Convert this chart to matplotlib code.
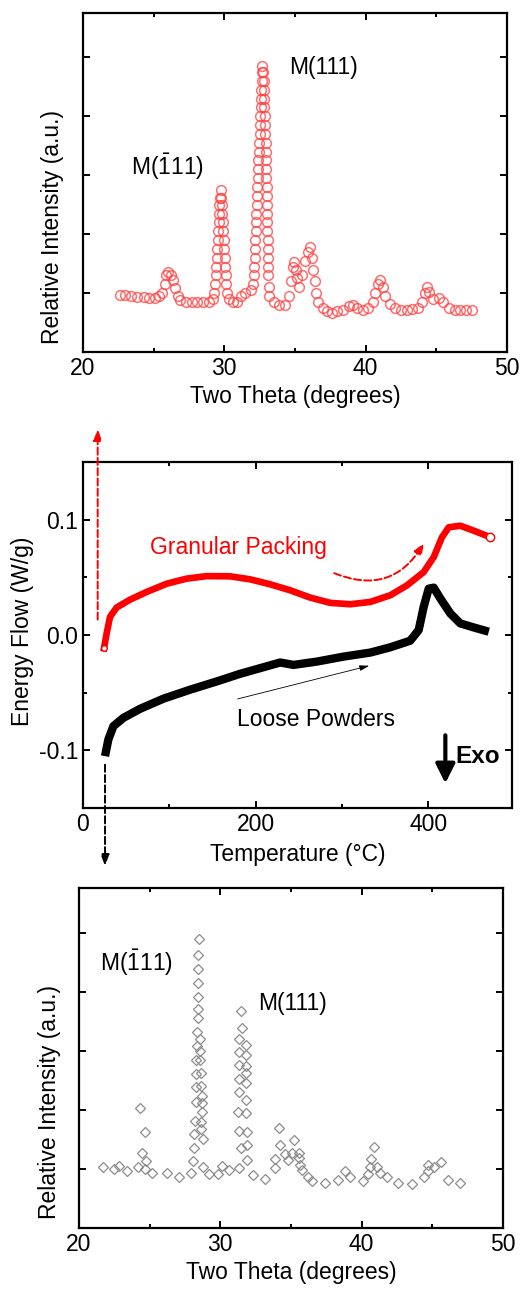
import matplotlib
matplotlib.use('Agg')
import matplotlib.pyplot as plt
import numpy as np

plt.rcParams['font.family'] = ['Liberation Sans', 'DejaVu Sans']
plt.rcParams['font.size'] = 16.5
plt.rcParams['mathtext.fontset'] = 'custom'
plt.rcParams['mathtext.rm'] = 'Liberation Sans'
plt.rcParams['mathtext.it'] = 'Liberation Sans:italic'
plt.rcParams['mathtext.bf'] = 'Liberation Sans:bold'

######  top XRD (granular packing)
tt_top = [22.6, 23.0, 23.4, 23.8, 24.3, 24.7, 25.1, 25.4, 25.6, 25.8, 25.9, 26.0, 26.2, 26.35,
          26.5, 26.7, 26.9, 27.3, 27.7, 28.1, 28.5, 28.9, 29.2,
          29.3, 29.35, 29.4, 29.43, 29.46, 29.5, 29.53, 29.56, 29.6, 29.63, 29.66, 29.7, 29.75,
          29.8, 29.83, 29.86, 29.9, 29.93, 29.96, 30.0, 30.03, 30.06, 30.1, 30.13, 30.2,
          30.3, 30.6, 30.9, 31.2, 31.5, 31.9,
          32.05, 32.1, 32.12, 32.15, 32.18, 32.2, 32.22, 32.25, 32.27, 32.3, 32.32, 32.35, 32.37,
          32.4, 32.42, 32.45, 32.47, 32.5, 32.52, 32.55, 32.57, 32.6, 32.62, 32.65, 32.68, 32.7,
          32.75, 32.78, 32.8, 32.82, 32.84, 32.86, 32.88, 32.9, 32.92, 32.94, 32.95, 32.97, 32.98,
          33.0, 33.0, 33.02, 33.03, 33.04, 33.05, 33.06, 33.07, 33.08, 33.1, 33.12, 33.15,
          33.2, 33.5, 33.9, 34.3, 34.6, 34.75, 34.85, 34.95, 35.05,
          35.15, 35.3, 35.5, 35.7, 35.9, 36.1, 36.2, 36.3, 36.4, 36.5, 36.6, 37.0, 37.3, 37.6, 38.0,
          38.4, 38.8, 39.1, 39.4, 39.8, 40.2, 40.5, 40.7, 40.9, 41.05, 41.2, 41.4, 41.7, 42.1, 42.5,
          42.9, 43.3, 43.7, 44.0, 44.2, 44.35, 44.5, 44.8, 45.2, 45.5, 45.9, 46.3, 46.7, 47.1, 47.5]
I_top = [0.97, 0.96, 0.95, 0.94, 0.93, 0.92, 0.92, 0.95, 1.0, 1.15, 1.3, 1.36, 1.3, 1.22,
         1.08, 0.95, 0.88, 0.85, 0.85, 0.85, 0.85, 0.85, 0.9,
         1.0, 1.15, 1.3, 1.45, 1.6, 1.75, 1.9, 2.05, 2.2, 2.35, 2.5, 2.62, 2.75,
         2.62, 2.5, 2.35, 2.2, 2.05, 1.9, 1.75, 1.6, 1.45, 1.3, 1.15, 1.0,
         0.9, 0.85, 0.85, 0.95, 1.0, 1.05,
         1.15, 1.3, 1.45, 1.6, 1.75, 1.9, 2.05, 2.2, 2.35, 2.5, 2.65, 2.8, 2.95,
         3.1, 3.25, 3.4, 3.55, 3.7, 3.85, 4.0, 4.15, 4.3, 4.45, 4.6, 4.75, 4.86,
         4.75, 4.6, 4.45, 4.3, 4.15, 4.0, 3.85, 3.7, 3.55, 3.4, 3.25, 3.1, 2.95,
         2.8, 2.65, 2.5, 2.35, 2.2, 2.05, 1.9, 1.75, 1.6, 1.45, 1.3, 1.1,
         0.95, 0.85, 0.8, 0.8, 0.95, 1.2, 1.45, 1.53, 1.4,
         1.25, 1.1, 1.3, 1.55, 1.7, 1.78, 1.6, 1.4, 1.2, 1.0, 0.85, 0.75, 0.7, 0.66, 0.7,
         0.72, 0.78, 0.8, 0.75, 0.72, 0.75, 0.85, 1.0, 1.15, 1.22, 1.1, 0.95, 0.82, 0.75, 0.72,
         0.72, 0.73, 0.75, 0.85, 1.0, 1.1, 1.02, 0.9, 0.92, 0.85, 0.75, 0.72, 0.71, 0.71, 0.71]

######  DSC curves
T_gran = [24.3, 27.4, 31.3, 39, 54.5, 73.8, 97, 120, 143.4, 170.4, 193.6, 216.8, 240, 263,
          286.4, 309.6, 332.8, 356, 375.3, 394.6, 406.2, 415.8, 423.6, 437, 452.5, 471.9]
E_gran = [-0.0115, 0.0014, 0.0158, 0.0239, 0.0307, 0.0374, 0.0445, 0.0489, 0.0511, 0.0509,
          0.0483, 0.044, 0.0388, 0.0325, 0.0279, 0.0267, 0.0287, 0.0345, 0.0431, 0.0546,
          0.0675, 0.0848, 0.0934, 0.0948, 0.0905, 0.0848]
T_loose = [25.5, 29.4, 35.2, 46.8, 66, 93.1, 124, 155, 182, 209, 228.4, 243.8, 271, 301.8,
           332.8, 356, 379, 388.8, 394.6, 400.4, 406.2, 414, 425.5, 437, 452.5, 470]
E_loose = [-0.105, -0.0905, -0.079, -0.0718, -0.064, -0.0552, -0.0474, -0.0402, -0.0336,
           -0.0279, -0.0238, -0.0259, -0.023, -0.0187, -0.0152, -0.0106, -0.0049, 0.0043,
           0.0244, 0.0402, 0.0411, 0.0316, 0.0187, 0.0101, 0.0066, 0.0029]

######  bottom XRD (loose powders)
tt_bot = [21.7, 22.5, 22.8, 23.4, 24.2, 24.3, 24.7, 24.45, 24.7, 24.75, 25.2, 26.2, 27.1,
          27.9, 28.1, 28.15, 28.15, 28.2, 28.25, 28.25, 28.3, 28.3, 28.35, 28.35, 28.4, 28.4,
          28.4, 28.4, 28.45, 28.45, 28.5, 28.55, 28.6, 28.6, 28.65, 28.65, 28.7, 28.7, 28.7,
          28.65, 28.65, 28.75, 28.8, 29.2, 29.85, 30.15, 30.6, 31.35, 31.45, 31.3, 31.25, 31.3,
          31.3, 31.3, 31.35, 31.3, 31.55, 31.5, 31.8, 31.8, 31.8, 31.85, 31.85, 31.85, 31.85,
          31.9, 31.9, 31.9, 32.35, 33.2, 33.9, 33.9, 34.15, 34.25, 34.55, 34.8, 35.1, 35.2,
          35.55, 35.6, 35.65, 35.75, 36.2, 36.5, 37.4, 38.3, 38.8, 39.2, 40.1, 40.45, 40.6,
          40.65, 40.85, 41.1, 41.3, 41.8, 42.6, 43.6, 44.4, 44.7, 44.7, 45.1, 45.6, 46.1, 47.0]
I_bot = [1.04, 1.0, 1.05, 0.97, 1.04, 2.04, 1.63, 1.27, 1.0, 1.13, 0.93, 0.93, 0.87,
         0.93, 1.13, 1.35, 1.59, 1.82, 2.14, 2.38, 2.61, 2.85, 3.09, 3.32, 3.55, 3.71,
         3.92, 4.15, 4.39, 4.62, 4.9, 3.2, 3.0, 2.84, 2.62, 2.4, 2.24, 2.11, 1.97,
         1.8, 1.67, 1.5, 1.04, 0.92, 0.92, 1.05, 0.99, 1.02, 1.35, 1.64, 1.97, 2.3,
         2.52, 2.76, 2.98, 3.2, 3.38, 3.68, 3.1, 2.93, 2.75, 2.63, 2.45, 2.16, 1.95,
         1.63, 1.41, 1.16, 0.9, 0.83, 1.01, 1.17, 1.7, 1.41, 1.25, 1.16, 1.27, 1.49,
         1.27, 1.19, 1.06, 0.98, 0.86, 0.8, 0.77, 0.82, 0.97, 0.86, 0.8, 0.91, 1.03,
         1.17, 1.37, 1.03, 0.93, 0.86, 0.76, 0.75, 0.87, 0.96, 1.07, 1.03, 1.11, 0.81, 0.76]

lab_111 = 'M(111)'
lab_m111 = r'M($\mathrm{\bar{1}}$11)'

fig = plt.figure(figsize=(5.22, 12.91), dpi=100)

def style(ax):
    for s in ax.spines.values():
        s.set_linewidth(1.6)
    ax.tick_params(which='both', direction='in', top=True, right=True, width=1.4)
    ax.tick_params(which='major', length=5)
    ax.tick_params(which='minor', length=3)

## top
ax1 = fig.add_axes([0.159, 0.7273, 0.812, 0.2626])
ax1.plot(tt_top, I_top, 'o', mfc='none', mec='#ff4040', mew=1.1, ms=7, alpha=0.75)
ax1.set_xlim(20, 50)
ax1.set_ylim(0, 5.75)
ax1.set_xticks([20, 30, 40, 50])
ax1.set_xticks([25, 35, 45], minor=True)
ax1.set_yticks([1, 2, 3, 4, 5])
ax1.set_yticklabels([])
ax1.set_xlabel('Two Theta (degrees)', labelpad=4)
ax1.set_ylabel('Relative Intensity (a.u.)')
ax1.yaxis.set_label_coords(-0.045, 0.37)
ax1.text(34.58, 4.83, lab_111, va='center', ha='left')
ax1.text(23.4, 3.14, lab_m111, va='center', ha='left')
style(ax1)

## middle DSC
ax2 = fig.add_axes([0.159, 0.3741, 0.822, 0.268])
ax2.plot(T_gran, E_gran, '-', color='red', lw=4.8, solid_joinstyle='round')
ax2.plot(T_gran[-1], E_gran[-1], 'o', mfc='white', mec='red', ms=6)
ax2.plot(T_gran[0], E_gran[0], 'o', mfc='white', mec='red', ms=4)
ax2.plot(T_loose, E_loose, '-', color='black', lw=6, solid_capstyle='butt', solid_joinstyle='round')
ax2.set_xlim(0, 497)
ax2.set_ylim(-0.15, 0.15)
ax2.set_xticks([0, 200, 400])
ax2.set_xticks([100, 300], minor=True)
ax2.set_yticks([-0.1, 0.0, 0.1])
ax2.set_yticklabels(['-0.1', '0.0', '0.1'])
ax2.set_yticks([-0.05, 0.05], minor=True)
ax2.set_xlabel('Temperature (\u00b0C)', labelpad=5)
ax2.set_ylabel('Energy Flow (W/g)')
ax2.yaxis.set_label_coords(-0.114, 0.51)
ax2.text(77.7, 0.076, 'Granular Packing', color='red', va='center', ha='left', fontsize=16.5)
ax2.text(178, -0.073, 'Loose Powders', color='black', va='center', ha='left', fontsize=16.5)
ax2.text(431, -0.105, 'Exo', fontweight='bold', va='center', ha='left', fontsize=17.5)
ax2.annotate('', xy=(419.7, -0.131), xytext=(419.7, -0.0845),
             arrowprops=dict(arrowstyle='-|>,head_width=0.35,head_length=0.7', color='black', lw=3))
ax2.annotate('', xy=(17, 0.181), xytext=(17, 0.011), annotation_clip=False,
             arrowprops=dict(arrowstyle='-|>,head_width=0.15,head_length=0.4', color='red', lw=1.4, ls='--'))
ax2.annotate('', xy=(25.5, -0.2026), xytext=(25.5, -0.11), annotation_clip=False,
             arrowprops=dict(arrowstyle='-|>,head_width=0.15,head_length=0.4', color='black', lw=1.4, ls='--'))
ax2.annotate('', xy=(396.5, 0.082), xytext=(288, 0.0546),
             arrowprops=dict(arrowstyle='-|>,head_width=0.15,head_length=0.4', color='red', lw=1.4, ls='--',
                             connectionstyle='arc3,rad=0.45'))
ax2.annotate('', xy=(334.7, -0.026), xytext=(176, -0.056),
             arrowprops=dict(arrowstyle='-|>,head_width=0.1,head_length=0.35', color='black', lw=0.6))
style(ax2)

## bottom
ax3 = fig.add_axes([0.1513, 0.0488, 0.812, 0.2634])
ax3.plot(tt_bot, I_bot, 'D', mfc='none', mec='#8c8c8c', mew=0.9, ms=5.5)
ax3.set_xlim(20, 50)
ax3.set_ylim(0, 5.76)
ax3.set_xticks([20, 30, 40, 50])
ax3.set_xticks([25, 35, 45], minor=True)
ax3.set_yticks([1, 2, 3, 4, 5])
ax3.set_yticklabels([])
ax3.set_xlabel('Two Theta (degrees)', labelpad=4)
ax3.set_ylabel('Relative Intensity (a.u.)')
ax3.yaxis.set_label_coords(-0.042, 0.37)
ax3.text(21.5, 4.5, lab_m111, va='center', ha='left')
ax3.text(32.67, 3.81, lab_111, va='center', ha='left')
style(ax3)

plt.savefig('out.png', dpi=100)
